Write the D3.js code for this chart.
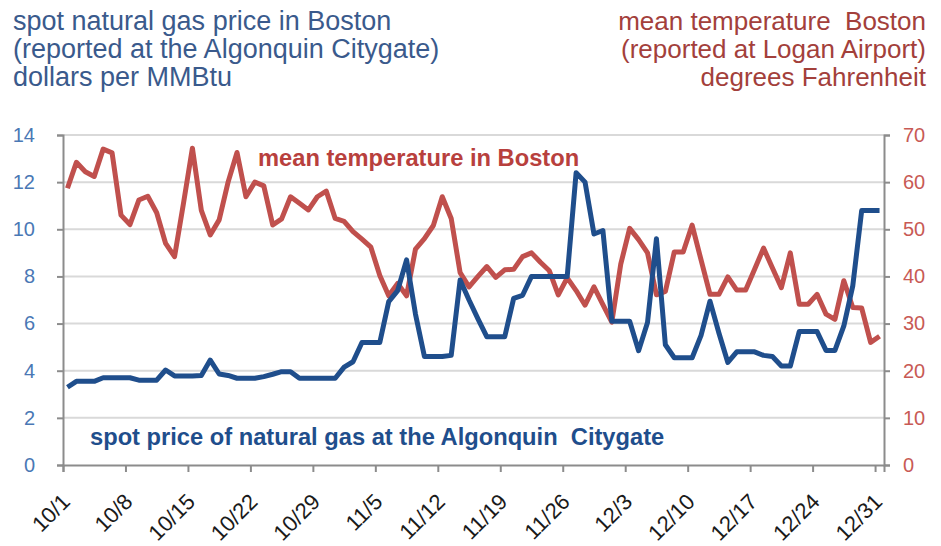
<!DOCTYPE html>
<html>
<head>
<meta charset="utf-8">
<script src="https://cdn.jsdelivr.net/npm/d3@7"></script>
<style>
  body { margin: 0; background: #fff; }
  svg text { font-family: Arial, "Liberation Sans", sans-serif; }
</style>
</head>
<body>
<div id="chart"></div>
<script>
// daily values from 10/1 to 12/31
const firstDay = "2012-10-01";
const gasPrice = [
  3.3, 3.55, 3.55, 3.55, 3.7, 3.7, 3.7, 3.7, 3.6, 3.6,
  3.6, 4.03, 3.78, 3.78, 3.78, 3.8, 4.45, 3.86, 3.8, 3.68,
  3.68, 3.68, 3.75, 3.85, 3.96, 3.96, 3.68, 3.68, 3.68, 3.68,
  3.68, 4.15, 4.38, 5.2, 5.2, 5.2, 6.93, 7.4, 8.7, 6.4,
  4.6, 4.6, 4.6, 4.65, 7.85, 7.0, 6.2, 5.44, 5.44, 5.44,
  7.07, 7.2, 8.0, 8.0, 8.0, 8.0, 8.0, 12.4, 12.0, 9.8,
  9.95, 6.1, 6.1, 6.1, 4.85, 6.05, 9.6, 5.1, 4.55, 4.55,
  4.55, 5.5, 6.95, 5.6, 4.35, 4.8, 4.8, 4.8, 4.65, 4.6,
  4.2, 4.2, 5.66, 5.66, 5.66, 4.86, 4.86, 5.9, 7.6, 10.8,
  10.8, 10.8
];
const meanTemp = [
  58.7, 64.2, 62.2, 61.2, 67.0, 66.2, 53.0, 51.0, 56.2, 57.0,
  53.5, 47.0, 44.2, 55.5, 67.2, 54.0, 48.8, 52.0, 60.0, 66.3,
  56.9, 60.0, 59.2, 50.9, 52.2, 56.9, 55.5, 54.1, 56.9, 58.1,
  52.3, 51.7, 49.5, 47.9, 46.2, 40.2, 35.9, 38.5, 35.9, 45.8,
  48.0, 50.8, 56.9, 52.3, 40.8, 37.8, 40.0, 42.1, 39.8, 41.4,
  41.5, 44.2, 45.0, 43.0, 41.2, 36.1, 39.7, 37.0, 33.9, 37.8,
  34.0, 30.3, 42.6, 50.2, 47.8, 45.0, 36.1, 36.8, 45.2, 45.2,
  50.9, 43.5, 36.2, 36.2, 39.9, 37.1, 37.1, 41.5, 46.0, 41.8,
  37.6, 45.0, 34.1, 34.1, 36.2, 32.0, 30.9, 39.1, 33.4, 33.3,
  26.0, 27.3
];
const dateLabels = ["10/1", "10/8", "10/15", "10/22", "10/29", "11/5", "11/12",
  "11/19", "11/26", "12/3", "12/10", "12/17", "12/24", "12/31"];
const gasTicks = [0, 2, 4, 6, 8, 10, 12, 14];
const tempTicks = [0, 10, 20, 30, 40, 50, 60, 70];
const leftTitle = ["spot natural gas price in Boston", "(reported at the Algonquin Citygate)", "dollars per MMBtu"];
const rightTitle = ["mean temperature  Boston", "(reported at Logan Airport)", "degrees Fahrenheit"];

const width = 941, height = 546;
const margin = {top: 135, right: 57, bottom: 81, left: 63};
const innerW = width - margin.left - margin.right;
const innerH = height - margin.top - margin.bottom;

const parse = d3.timeParse("%Y-%m-%d");
const day0 = parse(firstDay);
const dayAt = i => d3.timeHour.offset(d3.timeDay.offset(day0, i), 12);

const svg = d3.select("#chart").append("svg")
  .attr("width", width)
  .attr("height", height);

const g = svg.append("g").attr("transform", `translate(${margin.left},${margin.top})`);

const x = d3.scaleTime()
  .domain([day0, d3.timeDay.offset(day0, gasPrice.length)])
  .range([0, innerW]);
const yGas = d3.scaleLinear().domain([0, 14]).range([innerH, 0]);
const yTemp = d3.scaleLinear().domain([0, 70]).range([innerH, 0]);

// gridlines
g.append("g")
  .selectAll("line")
  .data(gasTicks.filter(t => t > 0))
  .join("line")
    .attr("x1", 0).attr("x2", innerW)
    .attr("y1", d => yGas(d)).attr("y2", d => yGas(d))
    .attr("stroke", "#d9d9d9").attr("stroke-width", 2);

// left axis
const axL = g.append("g")
  .call(d3.axisLeft(yGas).tickValues(gasTicks).tickSize(6).tickPadding(22));
axL.select(".domain").attr("stroke", "#8c8c8c").attr("stroke-width", 2);
axL.selectAll(".tick line").attr("stroke", "#8c8c8c").attr("stroke-width", 2);
axL.selectAll("text").attr("fill", "#4a78b5").attr("font-size", 20);

// right axis
const axR = g.append("g")
  .attr("transform", `translate(${innerW},0)`)
  .call(d3.axisRight(yTemp).tickValues(tempTicks).tickSize(6).tickPadding(13));
axR.select(".domain").attr("stroke", "#8c8c8c").attr("stroke-width", 2);
axR.selectAll(".tick line").attr("stroke", "#8c8c8c").attr("stroke-width", 2);
axR.selectAll("text").attr("fill", "#c85a55").attr("font-size", 20);

// bottom axis
const tickDates = dateLabels.map((d, i) => d3.timeDay.offset(day0, i * 7));
const axB = g.append("g")
  .attr("transform", `translate(0,${innerH})`)
  .call(d3.axisBottom(x).tickValues(tickDates).tickSize(7).tickFormat((d, i) => dateLabels[i]));
axB.select(".domain").attr("stroke", "#8c8c8c").attr("stroke-width", 2);
axB.selectAll(".tick line").attr("stroke", "#8c8c8c").attr("stroke-width", 2);
axB.selectAll("text")
  .attr("fill", "#1a1a1a").attr("font-size", 22)
  .attr("text-anchor", "end")
  .attr("x", 0).attr("y", 0).attr("dy", 0)
  .attr("transform", "translate(8,38) rotate(-45)");

// lines
const tempLine = d3.line().x((d, i) => x(dayAt(i))).y(d => yTemp(d));
const gasLine = d3.line().x((d, i) => x(dayAt(i))).y(d => yGas(d));

g.append("path")
  .datum(meanTemp)
  .attr("fill", "none")
  .attr("stroke", "#c0504d")
  .attr("stroke-width", 5)
  .attr("stroke-linejoin", "round")
  .attr("d", tempLine);

g.append("path")
  .datum(gasPrice)
  .attr("fill", "none")
  .attr("stroke", "#1f4e8c")
  .attr("stroke-width", 5)
  .attr("stroke-linejoin", "round")
  .attr("d", gasLine);

// series labels
g.append("text")
  .attr("x", 195).attr("y", 31)
  .attr("font-size", 23.7).attr("font-weight", "bold")
  .attr("fill", "#b8403d")
  .text("mean temperature in Boston");

g.append("text")
  .attr("x", 27).attr("y", 310)
  .attr("font-size", 23.7).attr("font-weight", "bold")
  .attr("fill", "#1f4e8c")
  .style("white-space", "pre")
  .text("spot price of natural gas at the Algonquin  Citygate");

// titles
svg.append("g")
  .selectAll("text")
  .data(leftTitle)
  .join("text")
    .attr("x", 13).attr("y", (d, i) => 30 + i * 28)
    .attr("font-size", 27)
    .attr("fill", "#3a5a8c")
    .text(d => d);

svg.append("g")
  .selectAll("text")
  .data(rightTitle)
  .join("text")
    .attr("x", 926).attr("y", (d, i) => 30 + i * 28)
    .attr("font-size", 26)
    .attr("text-anchor", "end")
    .attr("fill", "#a3403b")
    .style("white-space", "pre")
    .text(d => d);
</script>
</body>
</html>
